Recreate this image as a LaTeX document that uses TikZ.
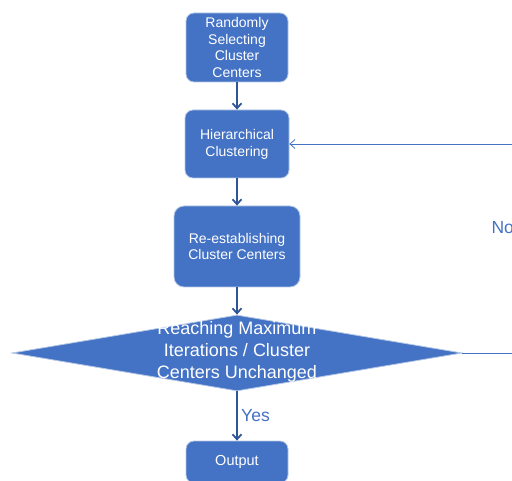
\documentclass[tikz,border=0pt]{standalone}
\usepackage{fontspec}
\setmainfont{Liberation Sans}
\usetikzlibrary{shapes.geometric, arrows.meta}
\definecolor{boxblue}{RGB}{68,114,196}
\definecolor{edgeblue}{RGB}{180,199,231}
\definecolor{arrowblue}{RGB}{47,85,151}

\begin{document}
\begin{tikzpicture}[x=1pt, y=-1pt,
    stepbox/.style={draw=edgeblue, line width=0.8pt, fill=boxblue, rounded corners=8pt,
        text=white, align=center, font=\fontsize{14}{16.8}\selectfont, inner sep=2pt},
    flow/.style={draw=arrowblue, line width=1.8pt, -{Straight Barb[length=5pt, width=9pt]}},
    back/.style={draw=boxblue, line width=0.8pt, -{Straight Barb[length=5pt, width=9pt]}}]
    \useasboundingbox (0,0) rectangle (512,481);
    \clip (0,0) rectangle (512,481);

    \node[stepbox, minimum width=102pt, minimum height=69pt] (start) at (237,47.5) {Randomly\\Selecting\\Cluster\\Centers};
    \node[stepbox, minimum width=104pt, minimum height=68pt] (cluster) at (237,144) {Hierarchical\\Clustering};
    \node[stepbox, minimum width=126pt, minimum height=81pt, rounded corners=10pt] (update) at (237,246.5) {Re-establishing\\Cluster Centers};
    \node[diamond, draw=edgeblue, line width=0.8pt, fill=boxblue, minimum width=450pt, minimum height=76pt, inner sep=0pt] (check) at (237,353) {};
    \node[text=white, align=center, font=\fontsize{18}{22}\selectfont] (checktext) at (237,352) {Reaching Maximum\\Iterations / Cluster\\Centers Unchanged};
    \node[stepbox, minimum width=102pt, minimum height=42pt, font=\fontsize{14.5}{17}\selectfont] (output) at (237,462) {Output};

    \coordinate (loopbot) at (540,353);
    \coordinate (looptop) at (540,144);

    \draw[flow] (start) -- (cluster);
    \draw[flow] (cluster) -- (update);
    \draw[flow] (update) -- (check.north);
    \draw[flow] (check.south) -- node[right, text=boxblue, font=\fontsize{17.5}{20}\selectfont] {Yes} (output);
    \draw[back] (check.east) -- (loopbot) -- (looptop) -- (cluster.east);
    \node[anchor=west, text=boxblue, font=\fontsize{17.5}{20}\selectfont] (no) at (488,228) {No};
\end{tikzpicture}
\end{document}
